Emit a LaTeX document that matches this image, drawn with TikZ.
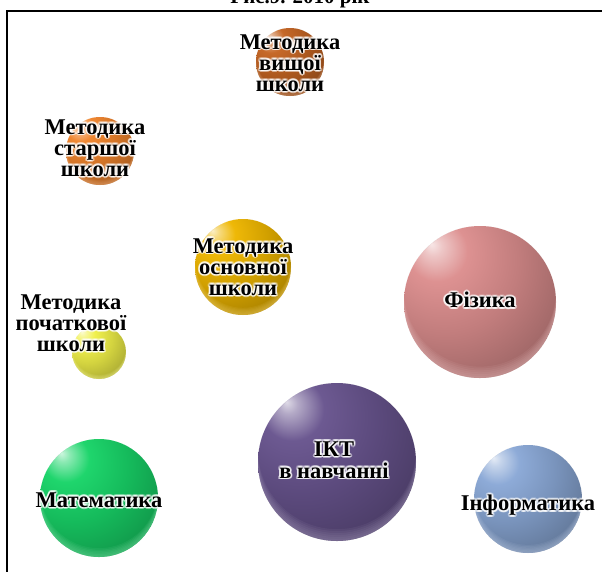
\documentclass[tikz,border=0pt]{standalone}
\usepackage{fontspec}
\setmainfont{Liberation Serif}
\usetikzlibrary{calc}

% sphere colours
\definecolor{cbrown}{RGB}{196,100,34}
\definecolor{corange}{RGB}{240,132,44}
\definecolor{cgold}{RGB}{238,182,0}
\definecolor{cyellow}{RGB}{240,240,72}
\definecolor{cpink}{RGB}{220,142,142}
\definecolor{cpurple}{RGB}{104,84,142}
\definecolor{cgreen}{RGB}{24,212,104}
\definecolor{cblue}{RGB}{138,168,214}

% glossy sphere: small highlight up-left, darker band towards the lower rim
\pgfdeclareradialshading[spherecol]{glossy}{\pgfqpoint{-16bp}{19bp}}{%
  color(0bp)=(spherecol!22!white);
  color(3bp)=(spherecol!50!white);
  color(10bp)=(spherecol!97!white);
  color(24bp)=(spherecol!88!black);
  color(44bp)=(spherecol!66!black);
  color(58bp)=(spherecol!55!black);
  color(72bp)=(spherecol!70!black);
  color(85bp)=(spherecol!75!black)}

\newsavebox{\glowbx}
\newsavebox{\glowbxw}
% text set in lines with a soft light halo behind the letters
\newcommand{\glowtext}[1]{%
  \sbox\glowbx{\begin{tabular}{@{}c@{}}#1\end{tabular}}%
  \sbox\glowbxw{\color{white}\begin{tabular}{@{}c@{}}#1\end{tabular}}%
  \leavevmode
  \pgfsetfillopacity{0.5}%
  \foreach \ang in {0,30,...,330}{%
    \pgfmathsetlengthmacro\gdx{1.8pt*cos(\ang)}%
    \pgfmathsetlengthmacro\gdy{1.8pt*sin(\ang)}%
    \rlap{\kern\gdx\raisebox{\gdy}{\usebox\glowbxw}}}%
  \pgfsetfillopacity{1}%
  \usebox\glowbx}

% reflected light along the lower rim of a sphere
\newcommand{\rimlight}[3]{% node, radius, colour
  \begin{scope}
    \clip (#1.center) circle [radius=#2];
    \foreach \k in {0.025,0.05,0.075,0.10,0.125,0.15}
      \fill[#3!55!white, opacity=0.09, even odd rule]
        (#1.center) circle [radius=#2]
        ($(#1.center)+(0,-\k*#2)$) circle [radius=#2];
  \end{scope}}

\tikzset{
  sphere/.style={circle, inner sep=0pt, minimum size=#1, shading=glossy},
  sph color/.code={\colorlet{spherecol}{#1}},
  labeltext/.style={font=\bfseries\fontsize{22.5}{21}\selectfont,
    inner sep=0pt, text=black},
}

\begin{document}
\begin{tikzpicture}[x=1pt, y=-1pt]
  \useasboundingbox (0,0) rectangle (602,571);
  \clip (0,0) rectangle (602,571);
  \fill[white] (0,0) rectangle (602,571);

  % caption above the frame
  \node[font=\bfseries\fontsize{21}{21}\selectfont, anchor=base, inner sep=0pt]
    (title) at (300,3) {Рис.9. 2010 рік};

  % frame
  \draw[line width=2pt] (6.5,580) -- (6.5,11) -- (610,11);

  % spheres
  \node[sphere=68pt, sph color=cbrown]  (vyshcha)   at (290,62)  {};
  \node[sphere=68pt, sph color=corange] (starsha)   at (100,151) {};
  \node[sphere=96pt, sph color=cgold]   (osnovna)   at (243,267) {};
  \node[sphere=54pt, sph color=cyellow] (pochatk)   at (99,352)  {};
  \node[sphere=152pt, sph color=cpink]  (fizyka)    at (480,302) {};
  \node[sphere=158pt, sph color=cpurple](ikt)       at (337,462) {};
  \node[sphere=118pt, sph color=cgreen] (matem)     at (99,498)  {};
  \node[sphere=108pt, sph color=cblue]  (inform)    at (528,499) {};

  \rimlight{vyshcha}{34}{cbrown}
  \rimlight{starsha}{34}{corange}
  \rimlight{osnovna}{48}{cgold}
  \rimlight{pochatk}{27}{cyellow}
  \rimlight{fizyka}{76}{cpink}
  \rimlight{ikt}{79}{cpurple}
  \rimlight{matem}{59}{cgreen}
  \rimlight{inform}{54}{cblue}

  % labels
  \node[labeltext] (tvyshcha) at (290,66)  {\glowtext{Методика\\вищої\\школи}};
  \node[labeltext] (tstarsha) at (95,151)  {\glowtext{Методика\\старшої\\школи}};
  \node[labeltext] (tosnovna) at (243,270) {\glowtext{Методика\\основної\\школи}};
  \node[labeltext] (tpochatk) at (71,326)  {\glowtext{Методика\\початкової\\школи}};
  \node[labeltext] (tfizyka)  at (480,303) {\glowtext{Фізика}};
  \node[labeltext] (tikt)     at (334,463) {\glowtext{ІКТ\\в навчанні}};
  \node[labeltext] (tmatem)   at (99,503)  {\glowtext{Математика}};
  \node[labeltext] (tinform)  at (528,506) {\glowtext{Інформатика}};
\end{tikzpicture}
\end{document}
